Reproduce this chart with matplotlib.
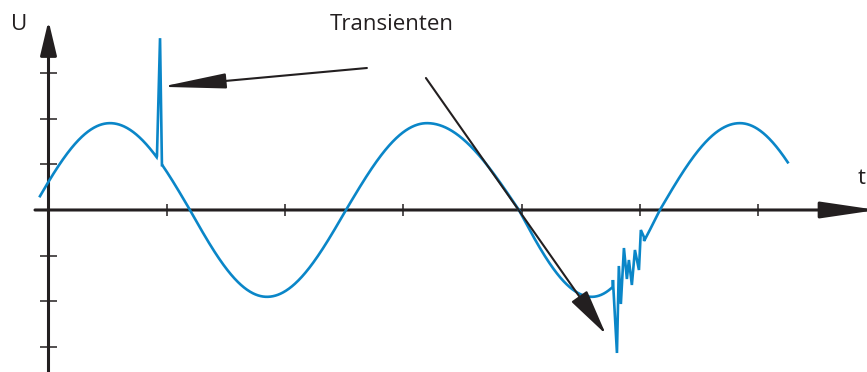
import matplotlib.pyplot as plt
import numpy as np

# signal landmarks (t in x-tick units, U in y-tick units)
landmark_t = [-0.139, 0.520, 1.196, 1.847, 2.515, 3.200, 3.977, 4.594, 5.169, 5.845, 6.488]
amplitude = 1.9
t_start, t_end = -0.072, 6.25

# first transient: single spike
spike_t = [0.917, 0.943, 0.959]
spike_u = [1.18, 3.76, 0.985]

# second transient: ringing burst
burst_t = [4.772, 4.806, 4.822, 4.839, 4.865, 4.890, 4.907, 4.932, 4.958, 4.992, 5.008, 5.034]
burst_u = [-1.532, -3.129, -1.225, -2.057, -0.832, -1.510, -1.094, -1.641, -0.875, -1.313, -0.438, -0.591]

x_ticks = [1, 2, 3, 4, 5, 6]
y_ticks = [-3, -2, -1, 1, 2, 3]

black = '#231f20'
blue = '#0a86c8'

fig = plt.figure(figsize=(8.67, 3.72), dpi=100)
ax = fig.add_axes([0, 0, 1, 1])
ax.set_xlim(-0.41, 6.92)
ax.set_ylim(-3.545, 4.595)
ax.axis('off')


def arrow(tip, tail, head_length, head_width, lw, zorder):
    # matplotlib pulls the tip back by half the line width / sin of the head angle,
    # push the end point forward so the drawn tip lands on `tip`
    p_tip = ax.transData.transform(tip)
    p_tail = ax.transData.transform(tail)
    d = (p_tip - p_tail) / np.hypot(*(p_tip - p_tail))
    sin_t = head_width / np.hypot(head_length, head_width)
    pad = 0.5 * lw / sin_t * fig.dpi / 72
    end = ax.transData.inverted().transform(p_tip + d * pad)
    ax.annotate('', xy=end, xytext=tail, annotation_clip=False,
                arrowprops=dict(arrowstyle=f'-|>,head_length={head_length},head_width={head_width}',
                                mutation_scale=1, lw=lw, color=black, shrinkA=0, shrinkB=0),
                zorder=zorder)


# base sine, phase follows the read landmarks
t = np.linspace(t_start, t_end, 1500)
phase = np.interp(t, landmark_t, np.arange(len(landmark_t)) * np.pi / 2)
u = amplitude * np.sin(phase)

# splice the transients into the curve
keep = ~(((t >= spike_t[0]) & (t <= spike_t[-1])) | ((t >= burst_t[0]) & (t <= burst_t[-1])))
tt = np.concatenate([t[keep], spike_t, burst_t])
uu = np.concatenate([u[keep], spike_u, burst_u])
order = np.argsort(tt, kind='stable')
ax.plot(tt[order], uu[order], color=blue, lw=1.9, zorder=2, solid_joinstyle='miter')

# axes with arrow heads
arrow((6.915, 0), (-0.114, 0), 34, 5, 2.2, 1)
arrow((0, 4.0), (0, -3.6), 21, 5, 2.2, 1)
ax.vlines(x_ticks, -0.13, 0.13, color=black, lw=1.1, zorder=1)
ax.hlines(y_ticks, -0.072, 0.072, color=black, lw=1.1, zorder=1)

# pointers to the transients
arrow((1.028, 2.713), (2.692, 3.107), 40, 4.7, 1.5, 3)
arrow((4.687, -2.626), (3.191, 2.888), 29, 6, 1.5, 3)

font = 'Open Sans'
ax.text(-0.25, 4.05, 'U', fontsize=16, family=font, color=black, ha='center', va='center')
ax.text(2.905, 4.05, 'Transienten', fontsize=16, family=font, color=black, ha='center', va='center')
ax.text(6.877, 0.70, 't', fontsize=16, family=font, color=black, ha='center', va='center')

fig.savefig('out.png', dpi=100)
